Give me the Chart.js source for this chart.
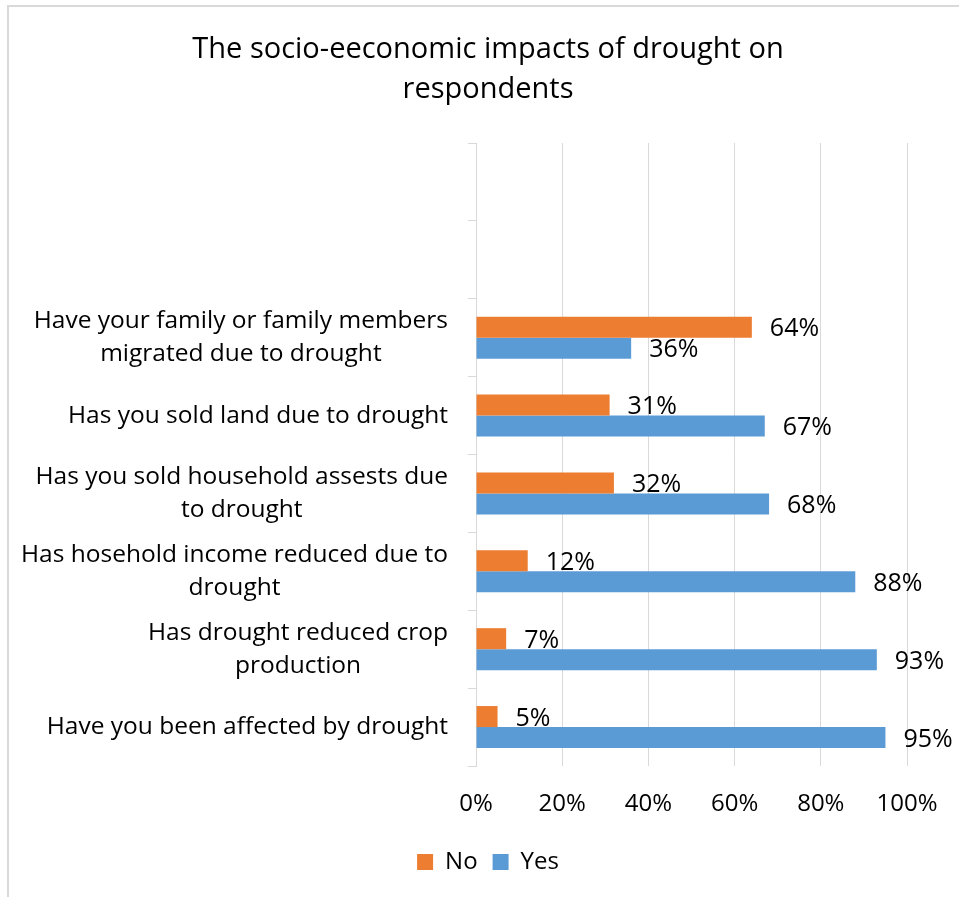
<!DOCTYPE html>
<html>
<head>
<meta charset="utf-8">
<script src="https://cdn.jsdelivr.net/npm/chart.js@4.4.1/dist/chart.umd.min.js"></script>
<style>
  html, body { margin: 0; padding: 0; background: #fff; overflow: hidden; }
  #wrap { position: relative; width: 976px; height: 897px; }
  #frame { position: absolute; left: 7px; top: 5px; width: 1000px; height: 1000px;
           border-left: 2px solid #d9d9d9; border-top: 2px solid #d9d9d9; }
</style>
</head>
<body>
<div id="wrap">
  <div id="frame"></div>
  <canvas id="chart"></canvas>
</div>
<script>
// categories, top to bottom (two empty slots on top as in the original)
const categories = [
    [''],
    [''],
    ['Have your family or family members', 'migrated due to drought'],
    ['Has you sold land due to drought'],
    ['Has you sold household assests due', 'to drought'],
    ['Has hosehold income reduced due to', 'drought'],
    ['Has drought reduced crop', 'production'],
    ['Have you been affected by drought']
];
const noValues  = [null, null, 64, 31, 32, 12, 7, 5];
const yesValues = [null, null, 36, 67, 68, 88, 93, 95];
const xTicks = [0, 20, 40, 60, 80, 100];

const FONT = "'Open Sans', sans-serif";
const GRID = '#d9d9d9';

// category labels: block right-aligned to the axis, lines centred inside the block
const categoryLabels = {
    id: 'categoryLabels',
    afterDraw(chart) {
        const ctx = chart.ctx;
        const y = chart.scales.y;
        ctx.save();
        ctx.font = '24.5px ' + FONT;
        ctx.fillStyle = '#000';
        ctx.textAlign = 'center';
        ctx.textBaseline = 'middle';
        categories.forEach((lines, i) => {
            if (!lines[0]) return;
            const w = Math.max(...lines.map(l => ctx.measureText(l).width));
            const cx = y.right - 28 - w / 2;
            const cy = y.getPixelForTick(i);
            lines.forEach((l, j) => {
                ctx.fillText(l, cx, cy + (j - (lines.length - 1) / 2) * 33);
            });
        });
        ctx.restore();
    }
};

// value labels at the end of each bar
const valueLabels = {
    id: 'valueLabels',
    afterDatasetsDraw(chart) {
        const ctx = chart.ctx;
        ctx.save();
        ctx.font = '25px ' + FONT;
        ctx.fillStyle = '#000';
        ctx.textAlign = 'left';
        ctx.textBaseline = 'middle';
        chart.data.datasets.forEach((ds, di) => {
            chart.getDatasetMeta(di).data.forEach((bar, i) => {
                const v = ds.data[i];
                if (v == null) return;
                ctx.fillText(v + '%', bar.x + 18, bar.y + 2);
            });
        });
        ctx.restore();
    }
};

new Chart(document.getElementById('chart'), {
    type: 'bar',
    data: {
        labels: categories,
        datasets: [
            { label: 'No', data: noValues, backgroundColor: '#ED7D31',
              categoryPercentage: 0.54, barPercentage: 1 },
            { label: 'Yes', data: yesValues, backgroundColor: '#5B9BD5',
              categoryPercentage: 0.54, barPercentage: 1 }
        ]
    },
    options: {
        indexAxis: 'y',
        responsive: true,
        maintainAspectRatio: false,
        animation: false,
        layout: { padding: { top: 0, left: 0, right: 0, bottom: 13 } },
        scales: {
            x: {
                min: 0, max: 100,
                afterBuildTicks: s => { s.ticks = xTicks.map(v => ({ value: v })); },
                afterFit: s => { s.height = 69; },
                grid: { color: GRID, lineWidth: 1, drawTicks: false },
                border: { display: false },
                ticks: {
                    padding: 24,
                    color: '#000',
                    font: { family: FONT, size: 24 },
                    callback: v => v + '%'
                }
            },
            y: {
                afterFit: s => { s.width = 476; },
                grid: { color: GRID, drawOnChartArea: false, tickLength: 8, offset: true },
                border: { display: true, color: GRID, width: 1 },
                ticks: { display: false }
            },
            yRight: {
                type: 'linear',
                axis: 'y',
                position: 'right',
                afterFit: s => { s.width = 69; },
                grid: { display: false },
                border: { display: false },
                ticks: { display: false }
            }
        },
        plugins: {
            title: {
                display: true,
                text: ['The socio-eeconomic impacts of drought on', 'respondents'],
                color: '#000',
                font: { family: FONT, size: 29, weight: 'normal', lineHeight: 1.38 },
                padding: { top: 30, bottom: 33 }
            },
            legend: {
                position: 'bottom',
                labels: {
                    color: '#000',
                    font: { family: FONT, size: 24 },
                    boxWidth: 16,
                    boxHeight: 16,
                    padding: 15
                }
            },
            tooltip: { enabled: false }
        }
    },
    plugins: [categoryLabels, valueLabels]
});
</script>
</body>
</html>
